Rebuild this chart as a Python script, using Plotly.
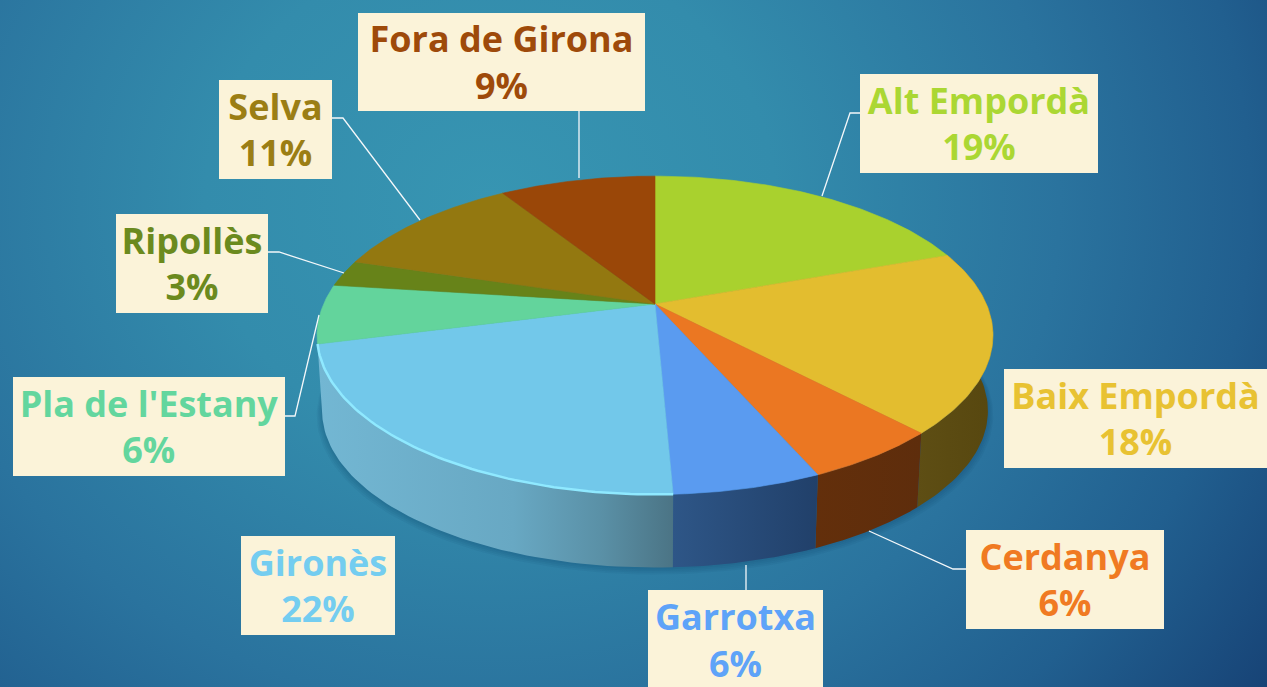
import numpy as np
import plotly.graph_objects as go

# ---- data -------------------------------------------------------------
categories = ["Alt Empordà", "Baix Empordà", "Cerdanya", "Garrotxa", "Gironès",
              "Pla de l'Estany", "Ripollès", "Selva", "Fora de Girona"]
shown_pct = ["19%", "18%", "6%", "6%", "22%", "6%", "3%", "11%", "9%"]
# slice sizes (the printed labels are rounded)
slice_share = [19.5, 18.4, 5.5, 5.9, 21.7, 6.0, 2.7, 11.3, 9.0]
top_colors = ["#A9D12E", "#E3BD2F", "#EB7722", "#5A9BF0", "#72C8EA",
              "#63D49C", "#678319", "#937810", "#9A4708"]
label_colors = ["#ABD733", "#E8C232", "#F07A22", "#5EA3F8", "#74CDF0",
                "#63D69E", "#6B8A1E", "#9B7E14", "#9E4A0A"]
wall_colors = [None,
               [[0, "#5E4E14"], [1, "#57470F"]],
               [[0, "#632F0B"], [1, "#5E2D0C"]],
               [[0, "#2E5687"], [1, "#21406A"]],
               [[0, "#73B7D3"], [0.55, "#68A8C3"], [0.8, "#5A90A6"], [1, "#4B7485"]],
               None, None, None, None]
boxes = [(860, 1098, 74, 173), (1004, 1267, 369, 468), (966, 1164, 530, 629),
         (648, 823, 590, 690), (241, 395, 536, 635), (13, 285, 377, 476),
         (116, 268, 214, 313), (219, 332, 80, 179), (358, 645, 13, 111)]
leaders = [[(860, 850, 822), (113, 113, 196)],
           [],
           [(966, 953, 869), (569, 569, 531)],
           [(746, 746), (590, 565)],
           [],
           [(285, 295, 319), (416, 416, 315)],
           [(268, 279, 344), (252, 252, 273)],
           [(332, 343, 420), (118, 118, 220)],
           [(579, 579), (111, 178)]]

# ---- pie projection (tilted disc seen in perspective) ------------------
CX, CY, A, B, K = 655.0, 304.0, 331.4, 153.0, 0.1965
DEPTH = 76.0


def rim(theta, scale=1.0, dy=0.0):
    u, v = np.sin(theta), np.cos(theta)
    d = 1 + K * v
    return CX + scale * A * u / d, CY + dy - scale * B * v / d


edges = np.concatenate([[0], np.cumsum(slice_share)]) / np.sum(slice_share) * 2 * np.pi

fig = go.Figure()

# background
fig.add_trace(go.Scatter(
    x=[-460, 1440, 1440, -460, -460], y=[-650, -650, 1050, 1050, -650],
    mode="lines", fill="toself", line=dict(width=0), hoverinfo="skip", showlegend=False,
    fillgradient=dict(type="radial", colorscale=[
        [0, "#3795B2"], [0.3, "#338CAC"], [0.6, "#2A739E"], [0.8, "#215F8F"], [1, "#174376"]])))

# soft shadow below the disc
tt = np.linspace(0, 2 * np.pi, 240)
for grow, dy in [(1.016, 80), (1.012, 79), (1.008, 78), (1.004, 77), (1.0, 76)]:
    sx, sy = rim(tt, 0.985 * grow, dy)
    fig.add_trace(go.Scatter(x=sx, y=sy, mode="lines", fill="toself", line=dict(width=0),
                             fillcolor="rgba(5,35,70,0.05)", hoverinfo="skip", showlegend=False))

# side walls
for i, grad in enumerate(wall_colors):
    if grad is None:
        continue
    t = np.linspace(edges[i], edges[i + 1], 60)
    x1, y1 = rim(t)
    x2, y2 = rim(t[::-1], 0.985, DEPTH)
    px, py = np.r_[x1, x2, x1[0]], np.r_[y1, y2, y1[0]]
    fig.add_trace(go.Scatter(x=px, y=py, mode="lines", fill="toself", line=dict(width=0),
                             hoverinfo="skip", showlegend=False,
                             fillgradient=dict(type="horizontal", colorscale=grad,
                                               start=float(px.min()), stop=float(px.max()))))

# top faces
for i, name in enumerate(categories):
    t = np.linspace(edges[i], edges[i + 1], 80)
    x1, y1 = rim(t)
    fig.add_trace(go.Scatter(x=np.r_[CX, x1, CX], y=np.r_[CY, y1, CY], mode="lines", fill="toself",
                             name=name, fillcolor=top_colors[i],
                             line=dict(width=0.6, color=top_colors[i]),
                             hoverinfo="name", showlegend=False))

# bright rim on the front of the light-blue slice
t = np.linspace(edges[4], edges[5], 80)
rx, ry = rim(t)
fig.add_trace(go.Scatter(x=rx, y=ry, mode="lines", line=dict(width=2.5, color="#8FE9FF"),
                         hoverinfo="skip", showlegend=False))

# leader lines
for seg in leaders:
    if seg:
        fig.add_trace(go.Scatter(x=seg[0], y=seg[1], mode="lines",
                                 line=dict(width=1.3, color="#F4F8FA"),
                                 hoverinfo="skip", showlegend=False))

annotations = []
for i, name in enumerate(categories):
    x0, x1, y0, y1 = boxes[i]
    annotations.append(dict(
        x=(x0 + x1) / 2, y=(y0 + y1) / 2, xref="x", yref="y", showarrow=False,
        text=f"<b>{name}<br>{shown_pct[i]}</b>",
        width=x1 - x0, height=y1 - y0, borderpad=0, borderwidth=0,
        bgcolor="#FBF3D9", align="center", valign="middle",
        xanchor="center", yanchor="middle",
        font=dict(family="Open Sans", size=36, color=label_colors[i])))

fig.update_layout(
    width=1267, height=687, margin=dict(l=0, r=0, t=0, b=0, pad=0),
    paper_bgcolor="#2A739E", plot_bgcolor="#2A739E", showlegend=False, autosize=False,
    xaxis=dict(range=[0, 1267], visible=False, fixedrange=True),
    yaxis=dict(range=[687, 0], visible=False, fixedrange=True),
    annotations=annotations)

fig.write_html("out.html", config=dict(displayModeBar=False),
               default_width="1267px", default_height="687px",
               post_script="document.body.style.margin='0';document.body.style.overflow='hidden';")
